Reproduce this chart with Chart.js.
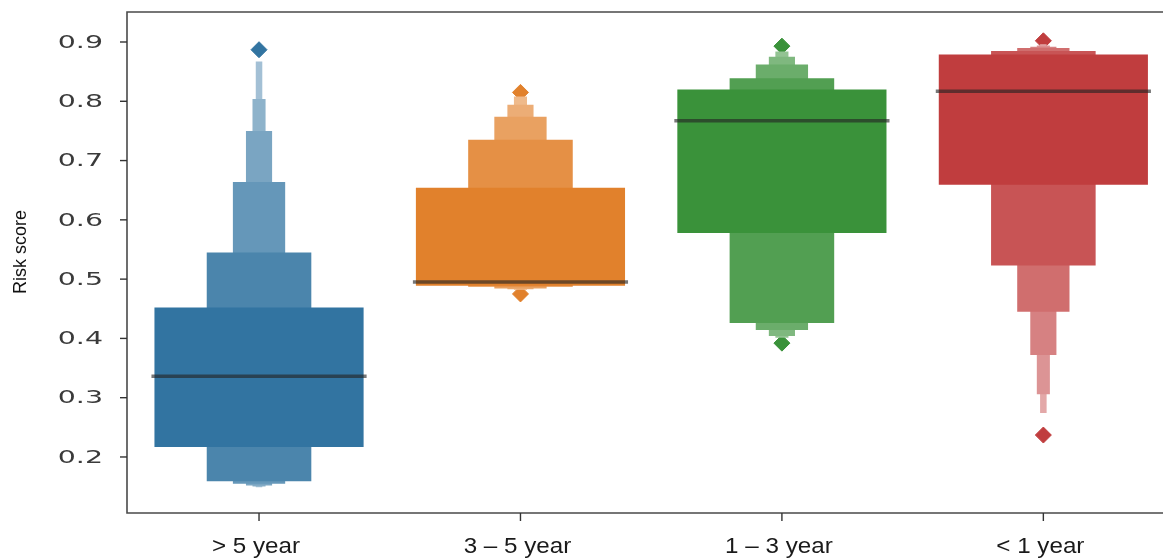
<!DOCTYPE html>
<html>
<head>
<meta charset="utf-8">
<script src="https://cdn.jsdelivr.net/npm/chart.js@4/dist/chart.umd.min.js"></script>
<style>
  html, body { margin: 0; padding: 0; background: #fff; overflow: hidden; }
  canvas { display: block; }
</style>
</head>
<body>
<canvas id="chart" width="1170" height="560"></canvas>
<script>
// Risk score by time-to-event group, drawn as letter-value (boxen) boxes.
const categories = ['> 5 year', '3 \u2013 5 year', '1 \u2013 3 year', '< 1 year'];

// Letter values: lower / upper edge of each nested box, innermost level first.
const level1Low  = [0.217, 0.489, 0.578, 0.659];
const level1High = [0.452, 0.654, 0.820, 0.879];
const level2Low  = [0.159, 0.487, 0.426, 0.523];
const level2High = [0.545, 0.735, 0.839, 0.885];
const level3Low  = [0.155, 0.484, 0.414, 0.445];
const level3High = [0.664, 0.774, 0.862, 0.890];
const level4Low  = [0.152, 0.483, 0.404, 0.372];
const level4High = [0.750, 0.794, 0.875, 0.892];
const level5Low  = [0.150, 0.482, 0.401, 0.306];
const level5High = [0.804, 0.808, 0.884, 0.894];
const level6Low  = [0.149, null, null, 0.274];
const level6High = [0.867, null, null, 0.896];

const medians = [0.336, 0.495, 0.767, 0.817];

// Outlying points: group index and value.
const outlierGroup = [0, 1, 1, 2, 2, 3, 3];
const outlierValue = [0.887, 0.815, 0.475, 0.893, 0.392, 0.902, 0.237];

const yTicks = [0.2, 0.3, 0.4, 0.5, 0.6, 0.7, 0.8, 0.9];

const baseColors = [[50, 116, 161], [225, 129, 44], [58, 146, 58], [192, 61, 62]];
const levelLighten = [0, 0.12, 0.25, 0.35, 0.45, 0.55];
const levelWidth = [0.8, 0.4, 0.2, 0.1, 0.05, 0.025];

function tint(rgb, f) {
  const c = rgb.map(v => Math.round(v + (255 - v) * f));
  return `rgb(${c[0]},${c[1]},${c[2]})`;
}

const levels = [
  [level1Low, level1High], [level2Low, level2High], [level3Low, level3High],
  [level4Low, level4High], [level5Low, level5High], [level6Low, level6High]
];

const datasets = levels.map(([lo, hi], k) => {
  const pts = [], cols = [];
  categories.forEach((_, i) => {
    if (lo[i] == null || hi[i] == null) return;
    pts.push({ x: i, y: [lo[i], hi[i]] });
    cols.push(tint(baseColors[i], levelLighten[k]));
  });
  return {
    type: 'bar',
    label: 'level ' + (k + 1),
    data: pts,
    backgroundColor: cols,
    borderWidth: 0,
    grouped: false,
    categoryPercentage: 1,
    barPercentage: levelWidth[k],
    order: k
  };
});

datasets.push({
  type: 'scatter',
  label: 'outliers',
  data: outlierGroup.map((g, i) => ({ x: g, y: outlierValue[i] })),
  backgroundColor: outlierGroup.map(g => tint(baseColors[g], 0)),
  borderColor: outlierGroup.map(g => tint(baseColors[g], 0)),
  borderWidth: 1,
  pointStyle: 'rectRot',
  pointRadius: 8,
  order: 20
});

const decorations = {
  id: 'decorations',
  afterDatasetsDraw(chart) {
    const ctx = chart.ctx;
    const xs = chart.scales.x, ys = chart.scales.y;
    const unit = xs.getPixelForValue(1) - xs.getPixelForValue(0);
    ctx.save();
    ctx.strokeStyle = 'rgba(35,35,35,0.62)';
    ctx.lineWidth = 3.5;
    medians.forEach((m, i) => {
      const cx = xs.getPixelForValue(i);
      const half = unit * levelWidth[0] / 2 + 3;
      const y = ys.getPixelForValue(m);
      ctx.beginPath();
      ctx.moveTo(cx - half, y);
      ctx.lineTo(cx + half, y);
      ctx.stroke();
    });
    ctx.restore();
  },
  afterDraw(chart) {
    const ctx = chart.ctx;
    const a = chart.chartArea;
    const xs = chart.scales.x, ys = chart.scales.y;
    ctx.save();
    // frame: left, top, bottom
    ctx.strokeStyle = '#4a4a4a';
    ctx.lineWidth = 1.6;
    ctx.beginPath();
    ctx.moveTo(a.right + 2, a.top);
    ctx.lineTo(a.left, a.top);
    ctx.lineTo(a.left, a.bottom);
    ctx.lineTo(a.right + 2, a.bottom);
    ctx.stroke();

    // y ticks and labels
    ctx.strokeStyle = '#333';
    ctx.lineWidth = 1.4;
    ctx.fillStyle = '#3a3a3a';
    ctx.font = '18px "DejaVu Sans"';
    ctx.textAlign = 'right';
    ctx.textBaseline = 'middle';
    yTicks.forEach(t => {
      const y = ys.getPixelForValue(t);
      ctx.beginPath();
      ctx.moveTo(a.left - 7, y);
      ctx.lineTo(a.left, y);
      ctx.stroke();
      ctx.save();
      ctx.translate(a.left - 24, y + 1);
      ctx.scale(1.58, 1);
      ctx.fillText(t.toFixed(1), 0, 0);
      ctx.restore();
    });

    // x ticks and labels
    ctx.fillStyle = '#1a1a1a';
    ctx.font = '22px "Liberation Sans"';
    ctx.textAlign = 'center';
    ctx.textBaseline = 'alphabetic';
    categories.forEach((c, i) => {
      const x = xs.getPixelForValue(i);
      ctx.beginPath();
      ctx.moveTo(x, a.bottom);
      ctx.lineTo(x, a.bottom + 8);
      ctx.stroke();
      ctx.save();
      ctx.translate(x - 3, 553);
      ctx.scale(1.1, 1);
      ctx.fillText(c, 0, 0);
      ctx.restore();
    });

    // y axis title
    ctx.save();
    ctx.translate(26, 252);
    ctx.rotate(-Math.PI / 2);
    ctx.fillStyle = '#111';
    ctx.font = '18px "Liberation Sans"';
    ctx.textAlign = 'center';
    ctx.textBaseline = 'alphabetic';
    ctx.fillText('Risk score', 0, 0);
    ctx.restore();
    ctx.restore();
  }
};

new Chart(document.getElementById('chart'), {
  type: 'bar',
  data: { datasets },
  options: {
    responsive: false,
    animation: false,
    layout: { padding: { left: 127, top: 12, right: 0, bottom: 47 } },
    plugins: { legend: { display: false }, tooltip: { enabled: false } },
    scales: {
      x: {
        type: 'linear', display: false, min: -0.505, max: 3.45, offset: false,
        // one tick per group, so bar widths are measured against the group spacing
        afterBuildTicks(scale) { scale.ticks = categories.map((_, i) => ({ value: i })); }
      },
      y: { type: 'linear', display: false, min: 0.1055, max: 0.9506 }
    }
  },
  plugins: [decorations]
});
</script>
</body>
</html>
